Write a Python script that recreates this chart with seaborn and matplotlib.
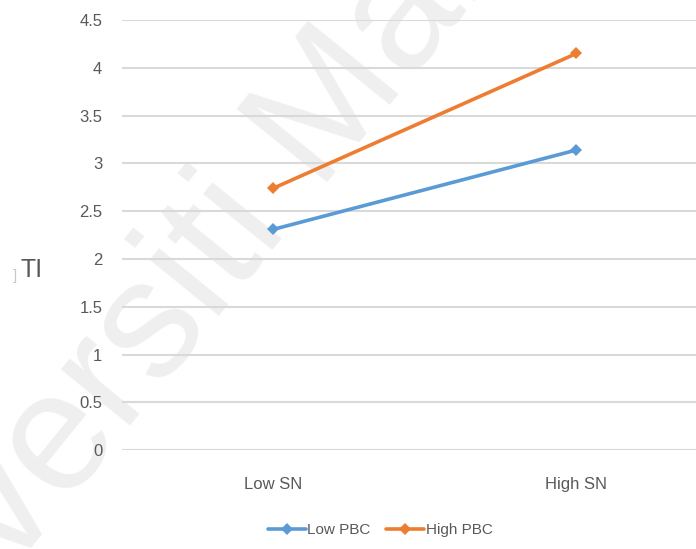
import matplotlib
matplotlib.use('Agg')
import matplotlib.pyplot as plt
import seaborn as sns
import pandas as pd

sn_levels = ['Low SN', 'High SN']
low_pbc = [2.31, 3.14]
high_pbc = [2.74, 4.15]
y_ticks = [0, 0.5, 1, 1.5, 2, 2.5, 3, 3.5, 4, 4.5]
y_tick_labels = ['0', '0.5', '1', '1.5', '2', '2.5', '3', '3.5', '4', '4.5']

df = pd.DataFrame({
    'SN': sn_levels * 2,
    'TI': low_pbc + high_pbc,
    'PBC': ['Low PBC'] * 2 + ['High PBC'] * 2,
})
df['x'] = df['SN'].map({s: i for i, s in enumerate(sn_levels)})

sns.set_theme(style='white')
plt.rcParams['font.family'] = ['Liberation Sans', 'DejaVu Sans']

fig = plt.figure(figsize=(6.96, 5.49), dpi=100)

# watermark, behind everything
fig.text(0.32, 0.56, 'Universiti Malaya', rotation=51, fontsize=122,
         color='#efefef', ha='center', va='center', zorder=-5)

ax = fig.add_axes([0.175, 0.18, 0.871, 0.7836])
ax.patch.set_alpha(0)

sns.lineplot(data=df, x='x', y='TI', hue='PBC',
             palette={'Low PBC': '#5B9BD5', 'High PBC': '#ED7D31'},
             marker='D', markersize=6, markeredgewidth=0, linewidth=2.6,
             ax=ax, zorder=3)

ax.set_xlim(-0.5, 1.5)
ax.set_ylim(0, 4.5)
ax.set_xticks(range(len(sn_levels)))
ax.set_xticklabels(sn_levels, fontsize=12, color='#595959')
ax.set_yticks(y_ticks)
ax.set_yticklabels(y_tick_labels, fontsize=12, color='#595959')
ax.tick_params(axis='x', pad=19, length=0)
ax.tick_params(axis='y', pad=14, length=0)
ax.yaxis.grid(True, color='#d9d9d9', linewidth=1.5)
ax.set_axisbelow(True)
for s in ax.spines.values():
    s.set_visible(False)
ax.set_xlabel('')
ax.set_ylabel('')

fig.text(0.021, 0.497, ']', fontsize=11, color='#c8c8c8', ha='center', va='center')
fig.text(0.045, 0.508, 'TI', fontsize=18, color='#595959', ha='center', va='center')

handles, labels = ax.get_legend_handles_labels()
ax.legend(handles, labels, loc='center', bbox_to_anchor=(0.546, 0.034),
          bbox_transform=fig.transFigure, ncol=2, frameon=False, fontsize=11,
          handlelength=2.5, handletextpad=0.1, columnspacing=1.0,
          labelcolor='#595959')

fig.savefig('out.png', dpi=100)
